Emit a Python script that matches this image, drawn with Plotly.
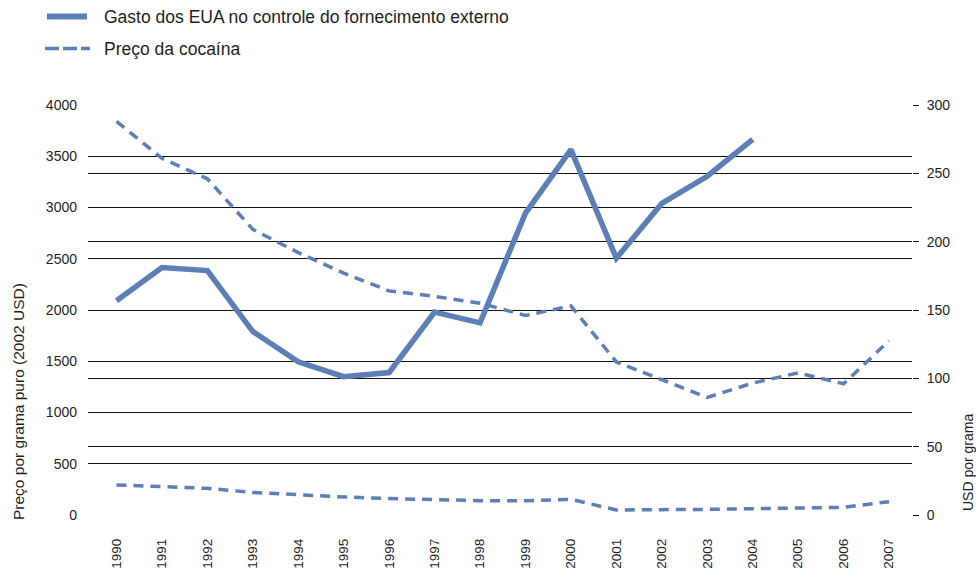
import plotly.graph_objects as go

# ---------------- data ----------------
anos = list(range(1990, 2008))
anos_rotulos = [str(a) for a in anos]

# Gasto dos EUA no controle do fornecimento externo (eixo esquerdo), 1990-2004
anos_gasto = list(range(1990, 2005))
gasto_eua = [2090, 2415, 2385, 1790, 1495, 1350, 1390, 1980, 1875, 2945,
             3565, 2505, 3040, 3305, 3665]

# Preço da cocaína (eixo direito, USD por grama)
preco_cocaina = [288, 261, 246, 209, 192, 177, 164, 160, 155, 146,
                 153, 112, 99, 86, 96.5, 104, 96, 127.5]

# Preço por grama puro (eixo esquerdo, 2002 USD)
preco_grama_puro = [293, 276, 260, 220, 195, 176, 160, 146, 140, 138,
                    153, 49, 49, 55, 62, 68, 75, 130]

ticks_esq = [0, 500, 1000, 1500, 2000, 2500, 3000, 3500, 4000]
ticks_dir = [0, 50, 100, 150, 200, 250, 300]

nome_gasto = "Gasto dos EUA no controle do fornecimento externo"
nome_preco = "Preço da cocaína"
titulo_esq = "Preço por grama puro (2002 USD)"
titulo_dir = "USD por grama"

# ---------------- style ----------------
COR = "#5b7fb6"
FONTE = "Liberation Sans, Arial, Helvetica, sans-serif"
TXT = "#1e1e1e"
W, H = 976, 570
L, R, T, B = 88, 912, 105, 515


def px_x(px):
    return (px - L) / (R - L)


def px_y(py):
    return (B - py) / (B - T)


fig = go.Figure()

fig.add_trace(go.Scatter(
    x=anos_gasto, y=gasto_eua, mode="lines", name=nome_gasto,
    line=dict(color=COR, width=5.5), yaxis="y", showlegend=False))

fig.add_trace(go.Scatter(
    x=anos, y=preco_cocaina, mode="lines", name=nome_preco,
    line=dict(color=COR, width=3.5, dash="10px,7px"), yaxis="y2",
    showlegend=False))

fig.add_trace(go.Scatter(
    x=anos, y=preco_grama_puro, mode="lines", name=nome_preco,
    line=dict(color=COR, width=3.5, dash="10px,7px"), yaxis="y",
    showlegend=False))

# manual legend
shapes = [
    dict(type="line", xref="paper", yref="paper",
         x0=px_x(47), x1=px_x(87), y0=px_y(16.5), y1=px_y(16.5),
         line=dict(color=COR, width=6)),
    dict(type="line", xref="paper", yref="paper",
         x0=px_x(45), x1=px_x(90), y0=px_y(48.5), y1=px_y(48.5),
         line=dict(color=COR, width=3.5, dash="14px,4px")),
]
annotations = [
    dict(text=nome_gasto, xref="paper", yref="paper", x=px_x(102), y=px_y(17),
         xanchor="left", yanchor="middle", showarrow=False,
         font=dict(size=17.5, color=TXT, family=FONTE)),
    dict(text=nome_preco, xref="paper", yref="paper", x=px_x(102), y=px_y(48.5),
         xanchor="left", yanchor="middle", showarrow=False,
         font=dict(size=17.5, color=TXT, family=FONTE)),
    dict(text=titulo_esq, xref="paper", yref="paper", x=px_x(18), y=px_y(402),
         xanchor="center", yanchor="middle", showarrow=False, textangle=-90,
         font=dict(size=15.5, color=TXT, family=FONTE)),
    dict(text=titulo_dir, xref="paper", yref="paper", x=px_x(968), y=px_y(463),
         xanchor="center", yanchor="middle", showarrow=False, textangle=-90,
         font=dict(size=14, color=TXT, family=FONTE)),
]

fig.update_layout(
    width=W, height=H,
    margin=dict(l=L, r=W - R, t=T, b=H - B, pad=0),
    paper_bgcolor="white", plot_bgcolor="white",
    font=dict(family=FONTE, color=TXT, size=14),
    showlegend=False,
    shapes=shapes,
    annotations=annotations,
    xaxis=dict(
        range=[1989.373, 2007.506], tickmode="array", tickvals=anos,
        ticktext=anos_rotulos, tickangle=-90, showgrid=False, zeroline=False,
        showline=False, ticks="", ticklabelstandoff=20, automargin=False,
        tickfont=dict(size=13.5, family=FONTE, color=TXT)),
    yaxis=dict(
        range=[0, 4000], tickmode="array", tickvals=ticks_esq,
        showgrid=True, gridcolor="#111", gridwidth=1, zeroline=False,
        showline=False, ticks="", ticklabelstandoff=10, automargin=False,
        tickfont=dict(size=14, family=FONTE, color=TXT)),
    yaxis2=dict(
        range=[0, 300], tickmode="array", tickvals=ticks_dir,
        overlaying="y", side="right", showgrid=True, gridcolor="#111",
        gridwidth=1, zeroline=False, showline=False, ticks="outside",
        ticklen=6, tickcolor="#111", tickwidth=1, ticklabelstandoff=5,
        automargin=False, tickfont=dict(size=14, family=FONTE, color=TXT)),
)

fig.write_html(
    "out.html",
    config={"displayModeBar": False},
    post_script="document.body.style.margin='0px';"
                "document.body.style.overflow='hidden';",
)
